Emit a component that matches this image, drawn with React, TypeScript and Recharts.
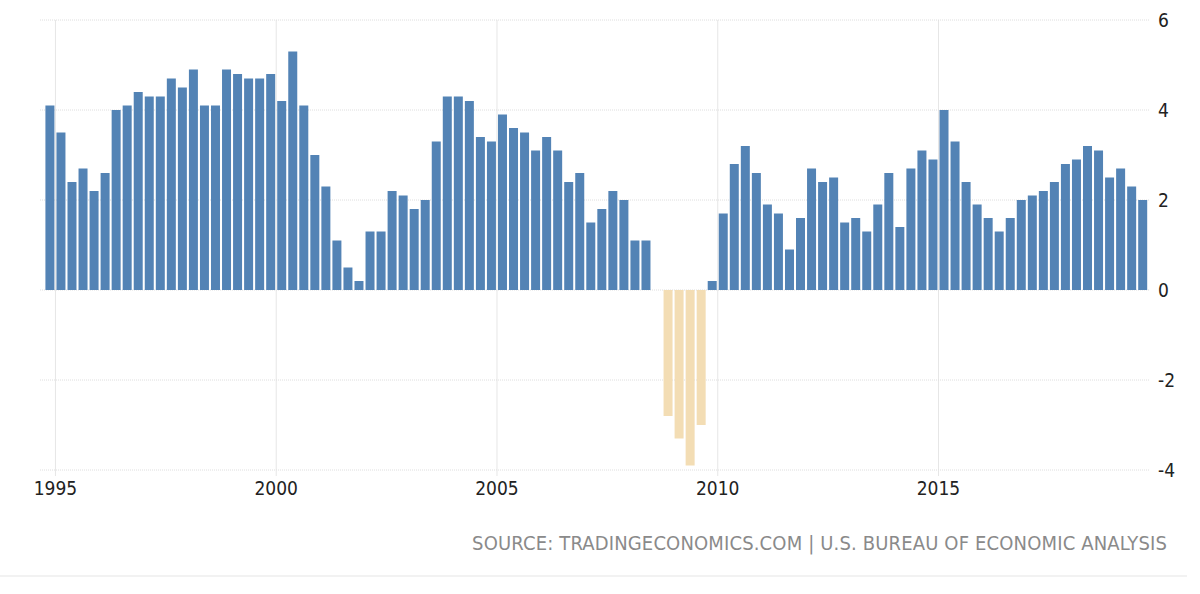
import React from "react";
import { Bar, BarChart, CartesianGrid, Cell, XAxis, YAxis } from "recharts";

// US GDP annual growth rate, quarterly, 1994 Q4 - 2019 Q3 (null = not shown)
const years = [
  1994, 1995, 1996, 1997, 1998, 1999, 2000, 2001, 2002, 2003, 2004, 2005, 2006,
  2007, 2008, 2009, 2010, 2011, 2012, 2013, 2014, 2015, 2016, 2017, 2018, 2019,
];

const growth: (number | null)[][] = [
  [null, null, null, 4.1],
  [3.5, 2.4, 2.7, 2.2],
  [2.6, 4.0, 4.1, 4.4],
  [4.3, 4.3, 4.7, 4.5],
  [4.9, 4.1, 4.1, 4.9],
  [4.8, 4.7, 4.7, 4.8],
  [4.2, 5.3, 4.1, 3.0],
  [2.3, 1.1, 0.5, 0.2],
  [1.3, 1.3, 2.2, 2.1],
  [1.8, 2.0, 3.3, 4.3],
  [4.3, 4.2, 3.4, 3.3],
  [3.9, 3.6, 3.5, 3.1],
  [3.4, 3.1, 2.4, 2.6],
  [1.5, 1.8, 2.2, 2.0],
  [1.1, 1.1, 0, -2.8],
  [-3.3, -3.9, -3.0, 0.2],
  [1.7, 2.8, 3.2, 2.6],
  [1.9, 1.7, 0.9, 1.6],
  [2.7, 2.4, 2.5, 1.5],
  [1.6, 1.3, 1.9, 2.6],
  [1.4, 2.7, 3.1, 2.9],
  [4.0, 3.3, 2.4, 1.9],
  [1.6, 1.3, 1.6, 2.0],
  [2.1, 2.2, 2.4, 2.8],
  [2.9, 3.2, 3.1, 2.5],
  [2.7, 2.3, 2.0, null],
];

const xTicks = [1995, 2000, 2005, 2010, 2015];
const yTicks = [-4, -2, 0, 2, 4, 6];

// bars sit in the middle of their quarter on a time axis
const data = years.flatMap((year, yi) =>
  growth[yi]
    .map((v, qi) => (v === null ? null : { t: year + (qi + 0.5) / 4, label: `${year} Q${qi + 1}`, value: v }))
    .filter((d): d is { t: number; label: string; value: number } => d !== null)
);

const font = "'DejaVu Sans Condensed', 'DejaVu Sans', sans-serif";

export default function App() {
  return (
    <div style={{ position: "absolute", left: 0, top: 0, width: 1200, height: 594, background: "#fff", overflow: "hidden" }}>
      <BarChart width={1200} height={500} data={data} margin={{ top: 20, right: 0, left: 40, bottom: 0 }} barSize={9}>
        <CartesianGrid horizontal={false} stroke="#e6e6e6" verticalValues={xTicks} />
        <CartesianGrid vertical={false} stroke="#dedede" strokeDasharray="1 1" horizontalValues={yTicks} />
        <XAxis
          dataKey="t"
          type="number"
          domain={[1994.65, 2019.79]}
          ticks={xTicks}
          allowDataOverflow
          axisLine={false}
          tickLine={{ stroke: "#e6e6e6" }}
          tickSize={6}
          tickMargin={6}
          height={30}
          tick={{ fill: "#222", fontSize: 19, fontFamily: font, fontStretch: "condensed" }}
        />
        <YAxis
          orientation="right"
          domain={[-4, 6]}
          ticks={yTicks}
          allowDataOverflow
          axisLine={false}
          tickLine={false}
          tickMargin={2}
          width={50}
          tick={{ fill: "#222", fontSize: 19, fontFamily: font, fontStretch: "condensed", textAnchor: "start" }}
        />
        <Bar dataKey="value" isAnimationActive={false}>
          {data.map((d) => (
            <Cell key={d.label} fill={d.value < 0 ? "#f3ddb4" : "#5383b5"} />
          ))}
        </Bar>
      </BarChart>
      <div
        style={{
          position: "absolute",
          right: 33,
          top: 531,
          fontFamily: font,
          fontStretch: "condensed",
          fontSize: 20,
          letterSpacing: 0.15,
          color: "#8a8a8a",
          whiteSpace: "nowrap",
          lineHeight: "24px",
        }}
      >
        SOURCE: TRADINGECONOMICS.COM | U.S. BUREAU OF ECONOMIC ANALYSIS
      </div>
      <div style={{ position: "absolute", left: 0, top: 575, width: 1187, height: 2, background: "#f2f2f2" }} />
    </div>
  );
}
